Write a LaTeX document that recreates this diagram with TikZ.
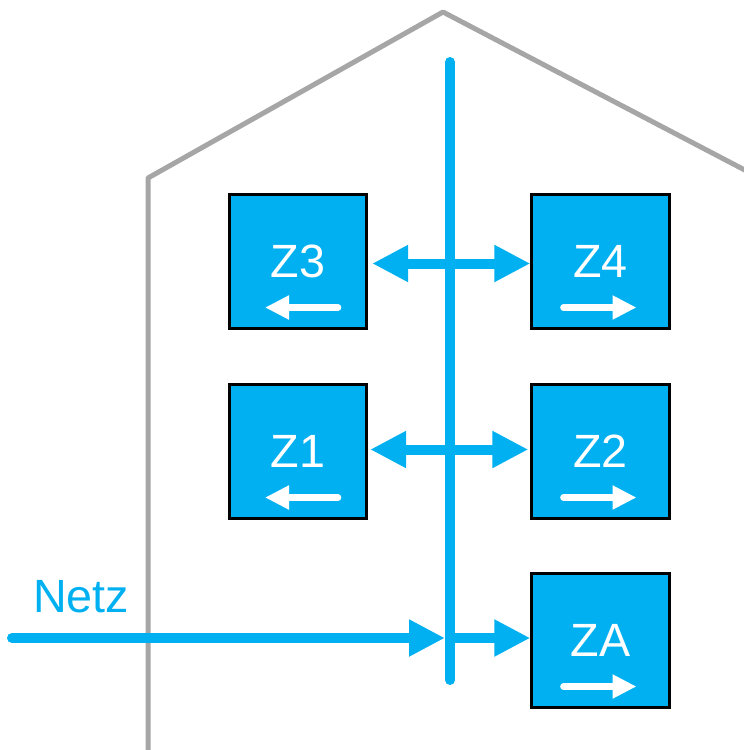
\documentclass[tikz,border=0pt]{standalone}
\usepackage{fontspec}
\setmainfont{Liberation Sans}
\usetikzlibrary{arrows.meta}
\definecolor{netzblue}{RGB}{0,176,240}
\definecolor{wallgray}{RGB}{166,166,166}
\tikzset{every picture/.style={line width=0.5pt}}
\tikzset{
  zbox/.style={draw=black,fill=netzblue,line width=2.25pt,minimum width=103pt,minimum height=101pt,inner sep=0pt,text=white,font=\fontsize{35}{42}\selectfont,text depth=0pt},
  flow/.style={draw=netzblue,line width=7.5pt,-{Triangle[length=27pt,width=26pt]}},
  dflow/.style={draw=netzblue,line width=7.5pt,{Triangle[length=27pt,width=26pt]}-{Triangle[length=27pt,width=26pt]}},
  dir/.style={draw=white,line width=5pt,line cap=round,-{Triangle[length=18pt,width=17pt]}}
}

\begin{document}
\begin{tikzpicture}[x=0.75pt,y=0.75pt,yscale=-1,xscale=1]
    \useasboundingbox (0,0) rectangle (743,750);
    
    %Shape: House outline
    \draw [color=wallgray,line width=3.75pt,line join=round,line cap=round] (148,752) -- (148,178) -- (443,12) -- (760,178) ;
    %Shape: Bus bar
    \coordinate (bustop) at (450,62);
    \coordinate (busbot) at (450,680);
    \draw [color=netzblue,line width=7.5pt,line cap=round] (bustop) -- (busbot) ;
    
    % Meter boxes
    \node [zbox] (z3) at (298,261.5) {Z3};
    \node [zbox] (z4) at (600.5,261.5) {Z4};
    \node [zbox] (z1) at (298,451.5) {Z1};
    \node [zbox] (z2) at (600.5,451.5) {Z2};
    \node [zbox] (za) at (600.5,640.5) {ZA};
    
    % Direction arrows in the boxes
    \draw [dir] ([shift={(40,46)}]z3.center) -- ([shift={(-33,46)}]z3.center) ;
    \draw [dir] ([shift={(40,46)}]z1.center) -- ([shift={(-33,46)}]z1.center) ;
    \draw [dir] ([shift={(-37,46)}]z4.center) -- ([shift={(36,46)}]z4.center) ;
    \draw [dir] ([shift={(-37,46)}]z2.center) -- ([shift={(36,46)}]z2.center) ;
    \draw [dir] ([shift={(-37,46)}]za.center) -- ([shift={(36,46)}]za.center) ;
    
    % Exchange arrows
    \draw [dflow,shorten <=3pt,shorten >=0pt] ([yshift=1.5]z3.east) -- ([yshift=1.5]z4.west) ;
    \draw [dflow,shorten <=1.5pt,shorten >=1.5pt] ([yshift=-1.5]z1.east) -- ([yshift=-1.5]z2.west) ;
    
    % Grid feed
    \coordinate (netz) at (12,638);
    \coordinate (feed) at (450,638);
    \draw [flow,line cap=round,shorten >=3.75pt] (netz) -- (feed) ;
    \draw [flow] (feed) -- (za.west |- feed) ;
    
    % Text Node
    \node [text=netzblue,font=\fontsize{35}{42}\selectfont,text depth=0pt] (netzlabel) at (81,596) {Netz};
\end{tikzpicture}
\end{document}
